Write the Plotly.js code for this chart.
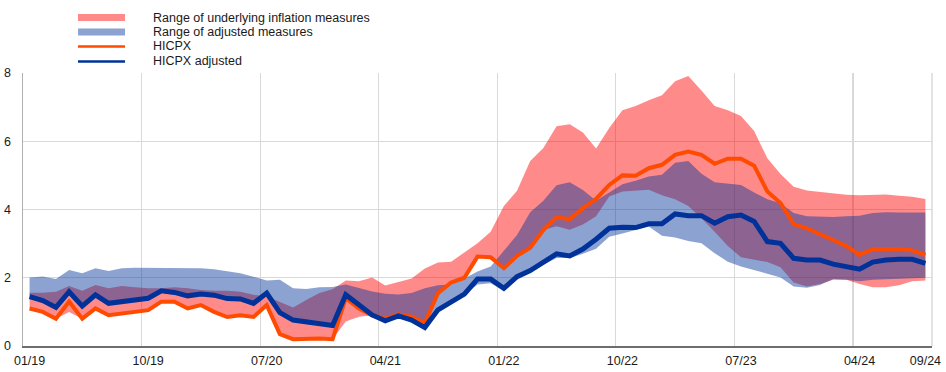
<!DOCTYPE html>
<html>
<head>
<meta charset="utf-8">
<script src="https://cdn.plot.ly/plotly-3.0.1.min.js"></script>
<style>
  html, body { margin: 0; padding: 0; background: #ffffff; }
  #chart { width: 946px; height: 372px; }
</style>
</head>
<body>
<div id="chart"></div>
<script>
// Monthly categories 01/19 .. 09/24
const months = [
  "01/19","02/19","03/19","04/19","05/19","06/19","07/19","08/19","09/19","10/19","11/19","12/19",
  "01/20","02/20","03/20","04/20","05/20","06/20","07/20","08/20","09/20","10/20","11/20","12/20",
  "01/21","02/21","03/21","04/21","05/21","06/21","07/21","08/21","09/21","10/21","11/21","12/21",
  "01/22","02/22","03/22","04/22","05/22","06/22","07/22","08/22","09/22","10/22","11/22","12/22",
  "01/23","02/23","03/23","04/23","05/23","06/23","07/23","08/23","09/23","10/23","11/23","12/23",
  "01/24","02/24","03/24","04/24","05/24","06/24","07/24","08/24","09/24"
];
const tickLabels = ["01/19","10/19","07/20","04/21","01/22","10/22","07/23","04/24","09/24"];

const hicpx = [
  1.1,1.0,0.8,1.3,0.8,1.1,0.9,0.95,1.0,1.05,1.3,1.3,
  1.1,1.2,1.0,0.85,0.9,0.85,1.2,0.35,0.2,0.22,0.22,0.2,
  1.4,1.1,0.9,0.8,0.93,0.86,0.67,1.55,1.86,2.0,2.62,2.6,
  2.28,2.64,2.88,3.4,3.77,3.72,4.04,4.31,4.72,5.0,4.99,5.21,
  5.31,5.6,5.7,5.6,5.34,5.49,5.49,5.28,4.53,4.19,3.57,3.45,
  3.28,3.11,2.93,2.67,2.84,2.84,2.84,2.8,2.67
];
const hicpxAdj = [
  1.45,1.33,1.13,1.59,1.17,1.5,1.25,1.29,1.35,1.4,1.62,1.57,
  1.47,1.52,1.49,1.39,1.38,1.25,1.55,0.98,0.76,0.7,0.64,0.6,
  1.5,1.2,0.91,0.74,0.88,0.76,0.54,1.06,1.3,1.52,1.96,1.96,
  1.69,2.03,2.21,2.47,2.7,2.64,2.84,3.13,3.45,3.48,3.47,3.58,
  3.58,3.87,3.82,3.82,3.6,3.79,3.84,3.65,3.06,3.01,2.57,2.52,
  2.52,2.4,2.33,2.25,2.46,2.52,2.54,2.54,2.42
];
const underlyingHigh = [
  1.56,1.56,1.59,1.76,1.62,1.79,1.69,1.76,1.72,1.69,1.69,1.72,
  1.69,1.64,1.62,1.62,1.59,1.5,1.45,1.3,1.13,1.35,1.55,1.66,
  1.92,1.9,2.01,1.77,1.88,1.98,2.27,2.45,2.47,2.73,3.01,3.35,
  4.1,4.55,5.42,5.8,6.44,6.5,6.26,5.79,6.39,6.91,7.03,7.2,
  7.35,7.76,7.91,7.49,7.03,6.91,6.74,6.3,5.5,5.04,4.67,4.56,
  4.52,4.47,4.43,4.42,4.42,4.44,4.4,4.37,4.31
];
const underlyingLow = [
  1.1,1.0,0.8,1.0,0.8,1.1,0.9,0.95,1.0,1.05,1.3,1.3,
  1.1,1.2,1.0,0.85,0.9,0.85,1.2,0.35,0.2,0.22,0.22,0.2,
  0.72,0.86,0.9,0.74,0.88,0.76,0.54,1.55,1.86,2.0,2.62,2.6,
  2.28,2.64,2.85,3.4,3.51,3.41,3.56,3.8,4.38,4.53,4.55,4.58,
  4.42,4.3,4.1,3.74,3.35,2.93,2.6,2.54,2.46,2.31,1.86,1.74,
  1.82,1.94,1.94,1.82,1.72,1.72,1.78,1.9,1.92
];
const adjustedHigh = [
  2.01,2.04,1.96,2.23,2.13,2.28,2.2,2.28,2.29,2.29,2.29,2.3,
  2.29,2.28,2.25,2.2,2.13,2.03,1.92,1.94,1.69,1.67,1.72,1.73,
  1.8,1.7,1.6,1.53,1.51,1.55,1.69,1.78,1.8,1.98,2.18,2.33,
  2.8,3.25,3.92,4.26,4.71,4.8,4.57,4.26,4.5,4.74,4.84,4.97,
  5.02,5.37,5.42,5.05,4.8,4.77,4.72,4.5,4.3,4.18,3.9,3.8,
  3.78,3.78,3.8,3.82,3.9,3.92,3.91,3.91,3.91
];
const adjustedLow = [
  1.45,1.33,1.13,1.59,1.17,1.5,1.25,1.29,1.35,1.4,1.62,1.57,
  1.47,1.52,1.49,1.39,1.38,1.25,1.55,0.98,0.76,0.7,0.64,0.6,
  1.5,1.2,0.91,0.74,0.88,0.76,0.54,1.06,1.3,1.5,1.8,1.84,
  1.62,1.97,2.14,2.38,2.58,2.58,2.7,2.85,3.2,3.3,3.4,3.5,
  3.23,3.18,3.08,3.01,2.72,2.47,2.33,2.23,2.13,2.01,1.74,1.71,
  1.79,1.96,1.94,1.9,1.94,1.96,1.98,2.0,2.0
];

const legendNames = ["Range of underlying inflation measures","Range of adjusted measures","HICPX","HICPX adjusted"];

const RED_FILL = "rgba(255,0,0,0.46)";
const BLUE_FILL = "rgba(0,50,153,0.45)";
const ORANGE = "#FF4B00";
const NAVY = "#003299";

const xIdx = months.map((m, i) => i);
const tickVals = tickLabels.map(t => months.indexOf(t));

const traces = [
  {x: xIdx, y: underlyingLow, type: "scatter", mode: "lines", line: {width: 0, color: "rgba(0,0,0,0)"}, hoverinfo: "skip", showlegend: false},
  {x: xIdx, y: underlyingHigh, type: "scatter", mode: "lines", fill: "tonexty", fillcolor: RED_FILL, line: {width: 0, color: "rgba(0,0,0,0)"}, name: legendNames[0], showlegend: false},
  {x: xIdx, y: adjustedLow, type: "scatter", mode: "lines", line: {width: 0, color: "rgba(0,0,0,0)"}, hoverinfo: "skip", showlegend: false},
  {x: xIdx, y: adjustedHigh, type: "scatter", mode: "lines", fill: "tonexty", fillcolor: BLUE_FILL, line: {width: 0, color: "rgba(0,0,0,0)"}, name: legendNames[1], showlegend: false},
  {x: xIdx, y: hicpx, type: "scatter", mode: "lines", line: {color: ORANGE, width: 4}, name: legendNames[2], showlegend: false},
  {x: xIdx, y: hicpxAdj, type: "scatter", mode: "lines", line: {color: NAVY, width: 5}, name: legendNames[3], showlegend: false}
];

// plot-area geometry in pixels (for the hand-drawn legend)
const W = 946, H = 372, ML = 23, MR = 14, MT = 73, MB = 26;
const PW = W - ML - MR, PH = H - MT - MB;
const px = v => (v - ML) / PW;
const py = v => (H - MB - v) / PH;

const legendRows = [17.5, 32, 46.5, 61.5];
const swX0 = 78, swX1 = 125, textX = 151;

const shapes = [
  {type: "rect", xref: "paper", yref: "paper", x0: px(swX0), x1: px(swX1), y0: py(legendRows[0] + 3.5), y1: py(legendRows[0] - 3.5), fillcolor: RED_FILL, line: {width: 0}},
  {type: "rect", xref: "paper", yref: "paper", x0: px(swX0), x1: px(swX1), y0: py(legendRows[1] + 3.5), y1: py(legendRows[1] - 3.5), fillcolor: BLUE_FILL, line: {width: 0}},
  {type: "line", xref: "paper", yref: "paper", x0: px(swX0), x1: px(swX1), y0: py(legendRows[2]), y1: py(legendRows[2]), line: {color: ORANGE, width: 2.5}},
  {type: "line", xref: "paper", yref: "paper", x0: px(swX0), x1: px(swX1), y0: py(legendRows[3]), y1: py(legendRows[3]), line: {color: NAVY, width: 2.5}},
  {type: "line", xref: "paper", yref: "paper", x0: 1, x1: 1, y0: 0, y1: 1, line: {color: "#d9d9d9", width: 1.5}, layer: "below"}
];

const annotations = legendNames.map((n, i) => ({
  xref: "paper", yref: "paper", x: px(textX), y: py(legendRows[i]),
  xanchor: "left", yanchor: "middle", showarrow: false, text: n,
  font: {family: "Liberation Sans, Arial, sans-serif", size: 12.5, color: "#1a1a1a"}
}));

const layout = {
  width: W, height: H,
  margin: {l: ML, r: MR, t: MT, b: MB, pad: 0},
  paper_bgcolor: "#ffffff", plot_bgcolor: "#ffffff",
  font: {family: "Liberation Sans, Arial, sans-serif", size: 12.5, color: "#1a1a1a"},
  showlegend: false,
  xaxis: {
    range: [-0.5, months.length - 0.5],
    tickmode: "array", tickvals: tickVals, ticktext: tickLabels,
    showgrid: false, zeroline: false,
    showline: true, linecolor: "#6e6e6e", linewidth: 1.5,
    ticks: "", ticklabelstandoff: 2,
    tickfont: {size: 12.5},
    minor: {tickmode: "linear", tick0: -0.5, dtick: 9, showgrid: true, gridcolor: "#d9d9d9", gridwidth: 1.2, ticks: ""},
    fixedrange: true
  },
  yaxis: {
    range: [0, 8], dtick: 2, tick0: 0,
    showgrid: true, gridcolor: "#d9d9d9", gridwidth: 1.2,
    zeroline: false,
    showline: true, linecolor: "#b0b0b0", linewidth: 1.5,
    ticks: "", ticklabelstandoff: 8,
    tickfont: {size: 12.5},
    fixedrange: true
  },
  shapes: shapes,
  annotations: annotations
};

Plotly.newPlot("chart", traces, layout, {displayModeBar: false, staticPlot: true});
</script>
</body>
</html>
